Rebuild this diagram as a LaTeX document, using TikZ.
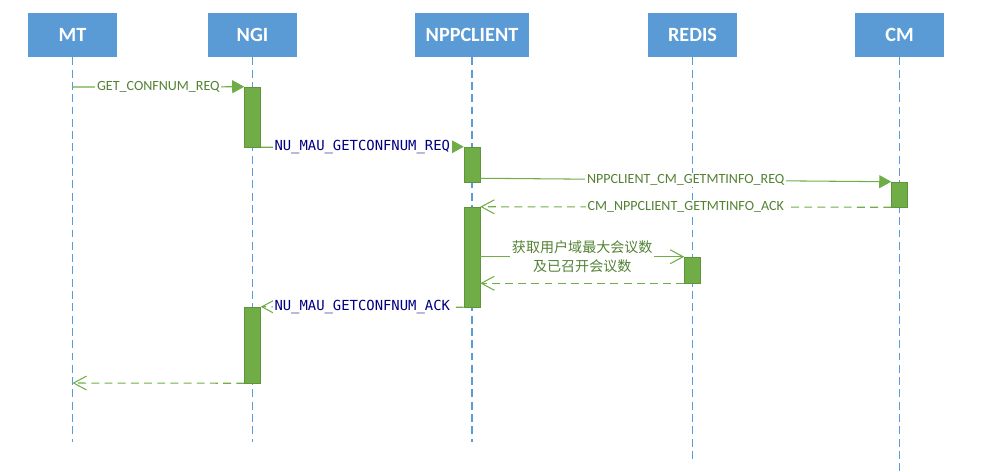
\documentclass[tikz,border=0pt]{standalone}
\usepackage{fontspec}
\setmainfont{Carlito}
\newfontfamily\cjk{Noto Sans CJK SC}
\newfontfamily\gothic{DejaVu Sans Mono}
\usetikzlibrary{arrows.meta,positioning,calc}
\definecolor{boxblue}{HTML}{5B9BD5}
\definecolor{bargreen}{HTML}{70AD47}
\definecolor{txtgreen}{HTML}{548235}
\definecolor{navy}{HTML}{000080}

\tikzset{
  head/.style={fill=boxblue, text=white, font=\fontsize{11.5}{13}\selectfont\bfseries, minimum height=0.88cm, inner sep=0pt},
  life/.style={boxblue, line width=0.6pt, dash pattern=on 4.5pt off 2.5pt},
  bar/.style={fill=bargreen, draw=bargreen!85!black, line width=0.3pt, minimum width=0.32cm, inner sep=0pt},
  req/.style={bargreen, line width=0.6pt, -{Triangle[length=0.24cm,width=0.26cm]}},
  call/.style={bargreen, line width=0.6pt, -{Straight Barb[length=0.26cm,width=0.28cm]}},
  ret/.style={call, dash pattern=on 4.5pt off 3pt},
  lbl/.style={fill=white, text=txtgreen, font=\fontsize{8}{9.5}\selectfont, inner sep=1pt},
  nlbl/.style={lbl, text=navy, font=\gothic\fontsize{7.9}{9}\selectfont},
}

\begin{document}
\begin{tikzpicture}[x=0.02cm, y=-0.02cm]
\useasboundingbox (0,0) rectangle (1001,471);

% lifelines
\foreach \n/\x/\w/\t/\e in {mt/72.5/1.78/MT/442, ngi/252.5/1.78/NGI/442, npp/472/2.28/NPPCLIENT/442, redis/692.5/1.78/REDIS/460, cm/899.5/1.78/CM/471} {
    \node[head, minimum width=\w cm] (\n) at (\x,35) {\t};
    \draw[life] (\n.south) -- (\x,\e);
}

% activation bars
\node[bar, minimum height=1.2cm] (ngiA) at (252.5,117) {};
\node[bar, minimum height=0.7cm] (nppA) at (472,164.5) {};
\node[bar, minimum height=0.5cm] (cmA) at (899.5,194.5) {};
\node[bar, minimum height=2cm] (nppB) at (472,257) {};
\node[bar, minimum height=0.52cm] (redisA) at (692.5,270) {};
\node[bar, minimum height=1.52cm] (ngiB) at (252.5,345) {};

\coordinate (mtA) at (72.5,87);
\coordinate (mtB) at (72.5,383);

% messages
\draw[req] (mtA) -- (ngiA.north west) node[lbl, midway] {GET\_CONFNUM\_REQ};
\draw[req] (ngiA.south east) -- (nppA.north west) node[nlbl, midway] {NU\_MAU\_GETCONFNUM\_REQ};
\draw[req] ([yshift=0.08cm]nppA.south east) -- (cmA.north west) node[lbl, midway] {NPPCLIENT\_CM\_GETMTINFO\_REQ};
\draw[ret] (cmA.south west) -- (nppB.north east) node[lbl, midway] {CM\_NPPCLIENT\_GETMTINFO\_ACK};
\draw[call] (nppB.east |- redisA.north) -- (redisA.north west) node[lbl, midway, align=center, font=\cjk\fontsize{8}{10.8}\selectfont] {获取用户域最大会议数\\及已召开会议数};
\draw[ret] (redisA.south west) -- (nppB.east |- redisA.south);
\draw[ret] (nppB.south west) -- (ngiB.north east) node[nlbl, midway] {NU\_MAU\_GETCONFNUM\_ACK};
\draw[ret] (ngiB.south west) -- (mtB);

\end{tikzpicture}
\end{document}
